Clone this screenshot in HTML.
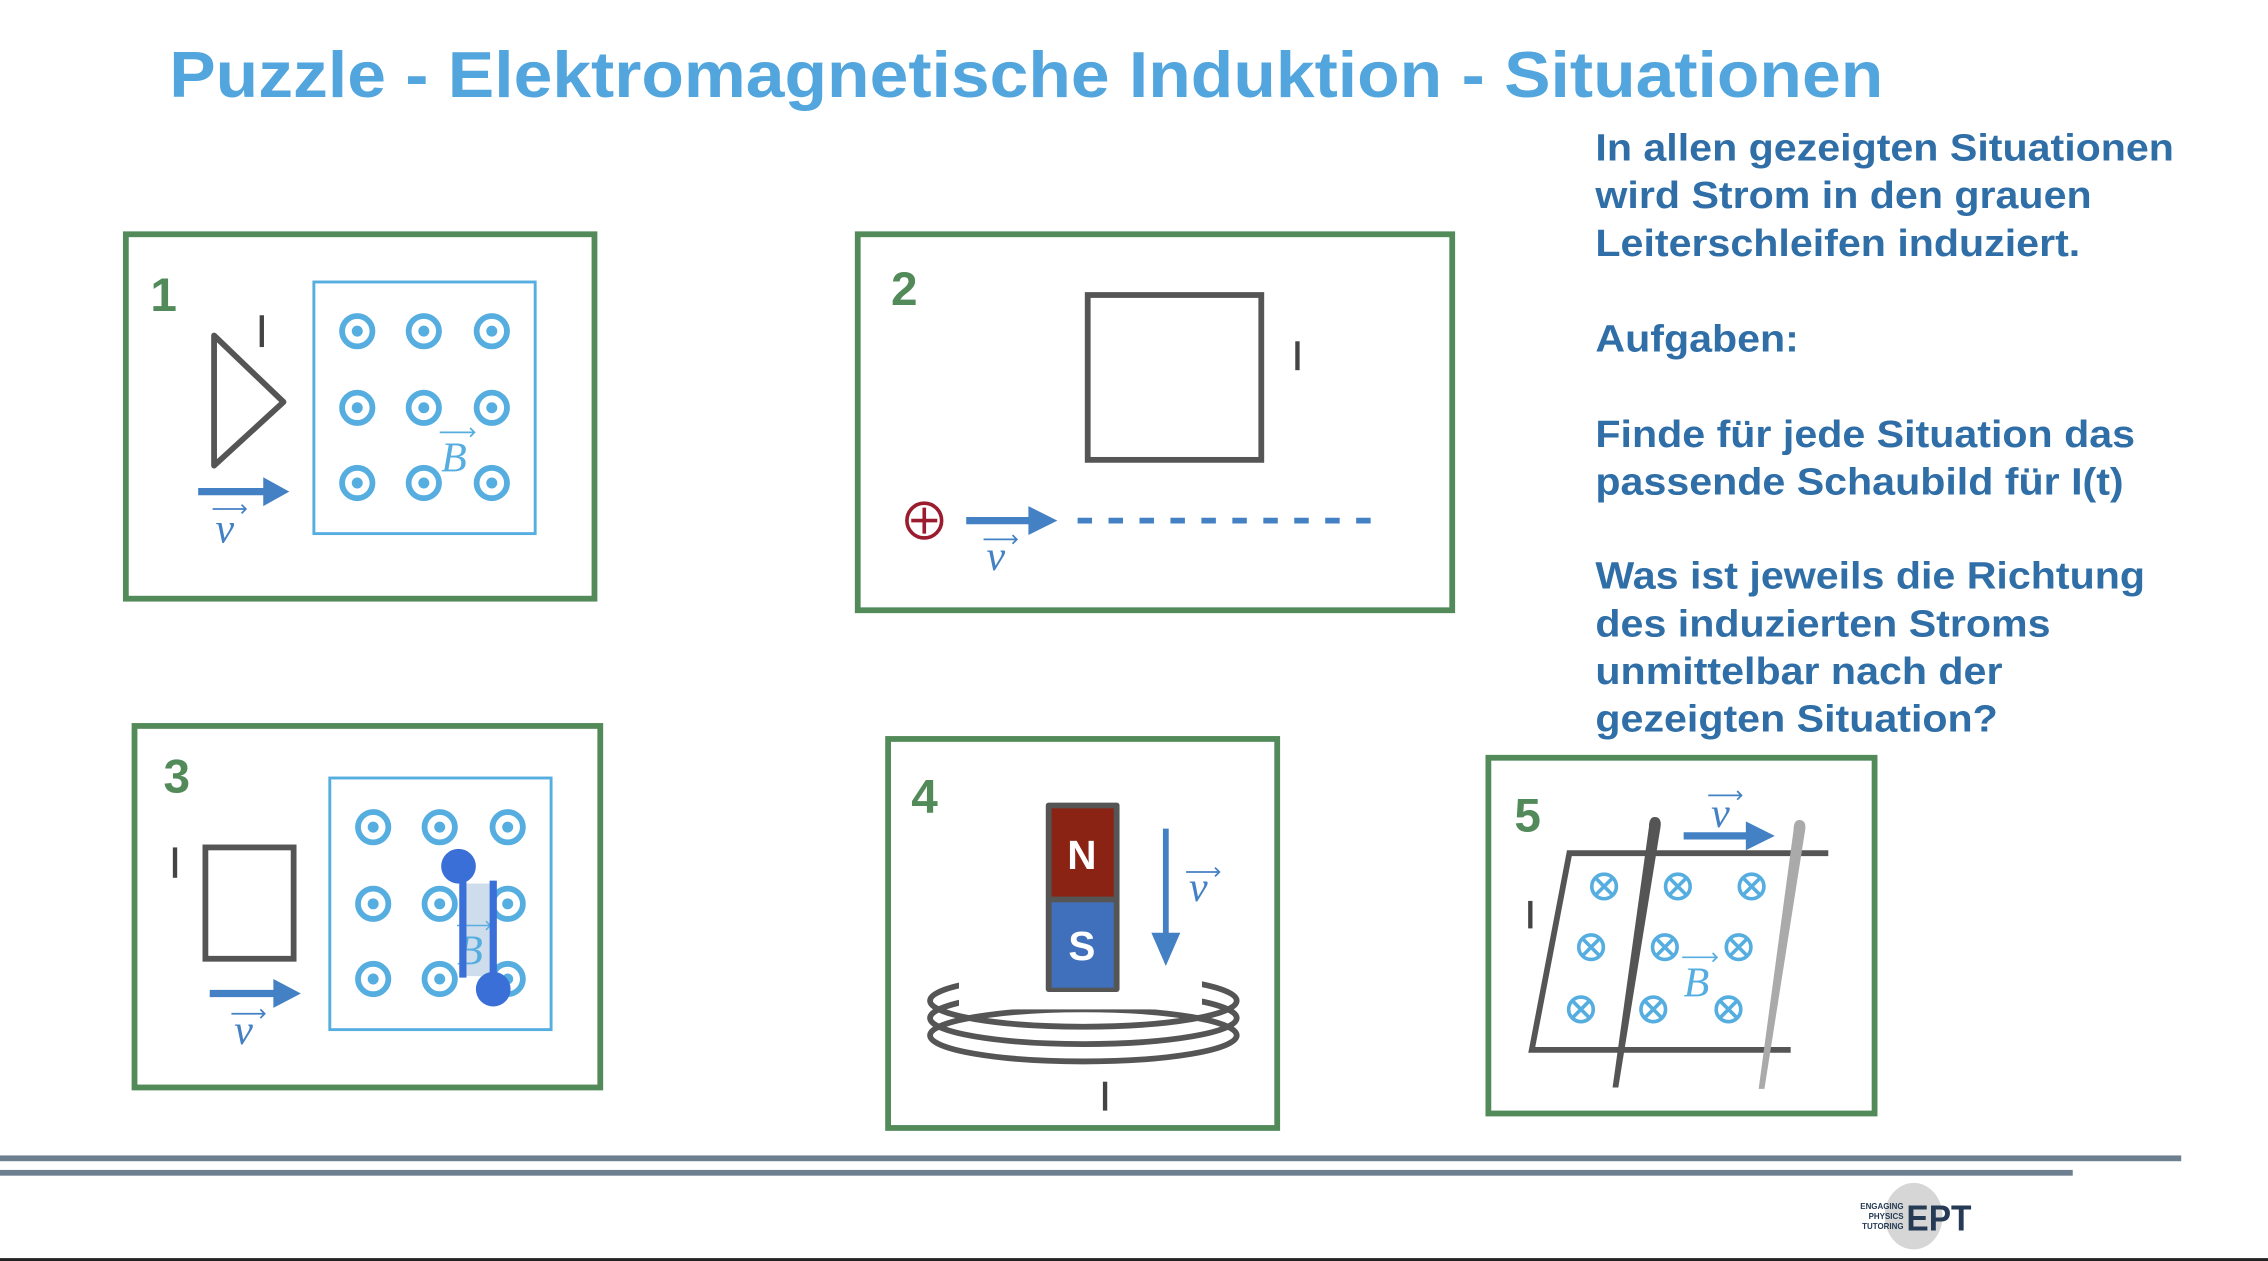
<!DOCTYPE html>
<html><head><meta charset="utf-8"><style>
html,body{margin:0;padding:0;background:#fff;}
svg{display:block;}
.num{font-family:"Liberation Sans",sans-serif;font-weight:bold;font-size:33px;fill:#528a5a;}
.vec{font-family:"Liberation Serif",serif;font-style:italic;font-size:29px;}
.rt{font-family:"Liberation Sans",sans-serif;font-weight:bold;font-size:26px;fill:#2f6ea6;}
</style></head><body>
<svg width="2268" height="1261" viewBox="0 0 1568 872" preserveAspectRatio="none" xmlns="http://www.w3.org/2000/svg">
<defs>
<g id="dot"><circle r="10.5" fill="none" stroke="#55ade0" stroke-width="4"/><circle r="3.8" fill="#55ade0"/></g>
<g id="cross"><circle r="8.5" fill="none" stroke="#55ade0" stroke-width="2.5"/><path d="M-6,-6L6,6M6,-6L-6,6" stroke="#55ade0" stroke-width="2.5"/></g>
</defs>
<rect width="1568" height="872" fill="#fff"/>
<text x="117" y="67" font-family="Liberation Sans,sans-serif" font-weight="bold" font-size="45" fill="#52a6dd" textLength="1185" lengthAdjust="spacingAndGlyphs">Puzzle - Elektromagnetische Induktion - Situationen</text>

<g class="rt" transform="translate(1103,0) scale(1.095,1)">
<text x="0" y="111">In allen gezeigten Situationen</text>
<text x="0" y="144">wird Strom in den grauen</text>
<text x="0" y="177">Leiterschleifen induziert.</text>
<text x="0" y="243">Aufgaben:</text>
<text x="0" y="309">Finde für jede Situation das</text>
<text x="0" y="342">passende Schaubild für I(t)</text>
<text x="0" y="407">Was ist jeweils die Richtung</text>
<text x="0" y="440">des induzierten Stroms</text>
<text x="0" y="473">unmittelbar nach der</text>
<text x="0" y="506">gezeigten Situation?</text>
</g>

<!-- Box 1 -->
<rect x="87" y="162" width="324" height="252" fill="none" stroke="#528a5a" stroke-width="4"/>
<text class="num" x="104" y="215">1</text>
<rect x="217" y="195" width="153" height="174" fill="none" stroke="#55ade0" stroke-width="2"/>
<use href="#dot" x="247" y="229"/><use href="#dot" x="293" y="229"/><use href="#dot" x="340" y="229"/>
<use href="#dot" x="247" y="282"/><use href="#dot" x="293" y="282"/><use href="#dot" x="340" y="282"/>
<use href="#dot" x="247" y="334"/><use href="#dot" x="293" y="334"/><use href="#dot" x="340" y="334"/>
<path d="M148,232L196,278L148,322Z" fill="none" stroke="#555" stroke-width="4" stroke-linejoin="round"/>
<line x1="181" y1="218" x2="181" y2="240" stroke="#444" stroke-width="3"/>
<line x1="137" y1="340" x2="184" y2="340" stroke="#4480c4" stroke-width="5"/>
<path d="M182,330L200,340L182,350Z" fill="#4480c4"/>
<text class="vec" x="149" y="375" fill="#4480c4">v</text>
<path d="M147,352h23m-3,-3l3,3l-3,3" stroke="#4480c4" stroke-width="1.2" fill="none"/>
<text class="vec" x="305" y="326" fill="#55ade0">B</text>
<path d="M304,299h24m-3,-3l3,3l-3,3" stroke="#55ade0" stroke-width="1.2" fill="none"/>

<!-- Box 2 -->
<rect x="593" y="162" width="411" height="260" fill="none" stroke="#528a5a" stroke-width="4"/>
<text class="num" x="616" y="211">2</text>
<rect x="752" y="204" width="120" height="114" fill="none" stroke="#555" stroke-width="4"/>
<line x1="897" y1="236" x2="897" y2="256" stroke="#444" stroke-width="3"/>
<circle cx="639" cy="360" r="12" fill="none" stroke="#9b1c2e" stroke-width="2.5"/>
<path d="M630,360h18M639,351v18" stroke="#9b1c2e" stroke-width="2.5"/>
<line x1="668" y1="360" x2="713" y2="360" stroke="#4480c4" stroke-width="5"/>
<path d="M711,350L731,360L711,370Z" fill="#4480c4"/>
<line x1="745" y1="360" x2="948" y2="360" stroke="#4480c4" stroke-width="4" stroke-dasharray="10,11.4"/>
<text class="vec" x="682" y="394" fill="#4480c4">v</text>
<path d="M680,373h23m-3,-3l3,3l-3,3" stroke="#4480c4" stroke-width="1.2" fill="none"/>

<!-- Box 3 -->
<rect x="93" y="502" width="322" height="250" fill="none" stroke="#528a5a" stroke-width="4"/>
<text class="num" x="113" y="548">3</text>
<rect x="228" y="538" width="153" height="174" fill="none" stroke="#55ade0" stroke-width="2"/>
<use href="#dot" x="258" y="572"/><use href="#dot" x="304" y="572"/><use href="#dot" x="351" y="572"/>
<use href="#dot" x="258" y="625"/><use href="#dot" x="304" y="625"/><use href="#dot" x="351" y="625"/>
<use href="#dot" x="258" y="677"/><use href="#dot" x="304" y="677"/><use href="#dot" x="351" y="677"/>
<rect x="318" y="611" width="23" height="64" fill="#c9d9ea" opacity="0.9"/>
<text class="vec" x="316" y="667" fill="#55ade0">B</text>
<path d="M316,640h23m-3,-3l3,3l-3,3" stroke="#55ade0" stroke-width="1" fill="none"/>
<line x1="320" y1="603" x2="320" y2="676" stroke="#3a6fd8" stroke-width="5"/>
<line x1="341" y1="609" x2="341" y2="682" stroke="#3a6fd8" stroke-width="5"/>
<circle cx="317" cy="599" r="12" fill="#3a6fd8"/>
<circle cx="341" cy="684" r="12" fill="#3a6fd8"/>
<rect x="142" y="586" width="61" height="77" fill="none" stroke="#555" stroke-width="4"/>
<line x1="121" y1="586" x2="121" y2="607" stroke="#444" stroke-width="3"/>
<line x1="145" y1="687" x2="191" y2="687" stroke="#4480c4" stroke-width="5"/>
<path d="M189,677L208,687L189,697Z" fill="#4480c4"/>
<text class="vec" x="162" y="722" fill="#4480c4">v</text>
<path d="M160,701h23m-3,-3l3,3l-3,3" stroke="#4480c4" stroke-width="1.2" fill="none"/>

<!-- Box 4 -->
<rect x="614" y="511" width="269" height="269" fill="none" stroke="#528a5a" stroke-width="4"/>
<text class="num" x="630" y="562">4</text>
<g fill="none" stroke="#555" stroke-width="4">
<ellipse cx="749" cy="692" rx="106" ry="18"/>
<ellipse cx="749" cy="704" rx="106" ry="18"/>
<ellipse cx="749" cy="716" rx="106" ry="18"/>
</g>
<rect x="663" y="660" width="168" height="38" fill="#fff"/>
<rect x="723" y="555" width="51" height="131" fill="#555" rx="2"/>
<rect x="727" y="559" width="43" height="61" fill="#8b2314"/>
<rect x="727" y="624" width="43" height="59" fill="#4070bc"/>
<text x="748" y="601" text-anchor="middle" font-family="Liberation Sans,sans-serif" font-weight="bold" font-size="28" fill="#fff">N</text>
<text x="748" y="664" text-anchor="middle" font-family="Liberation Sans,sans-serif" font-weight="bold" font-size="28" fill="#fff">S</text>
<line x1="806" y1="573" x2="806" y2="648" stroke="#4480c4" stroke-width="4"/>
<path d="M796,645L806,668L816,645Z" fill="#4480c4"/>
<text class="vec" x="822" y="623" fill="#4480c4">v</text>
<path d="M820,603h23m-3,-3l3,3l-3,3" stroke="#4480c4" stroke-width="1.2" fill="none"/>
<line x1="764" y1="748" x2="764" y2="768" stroke="#444" stroke-width="3"/>

<!-- Box 5 -->
<rect x="1029" y="524" width="267" height="246" fill="none" stroke="#528a5a" stroke-width="4"/>
<text class="num" x="1047" y="575">5</text>
<path d="M1264,590H1085L1059,726H1238" fill="none" stroke="#555" stroke-width="4"/>
<use href="#cross" x="1109" y="613"/><use href="#cross" x="1160" y="613"/><use href="#cross" x="1211" y="613"/>
<use href="#cross" x="1100" y="655"/><use href="#cross" x="1151" y="655"/><use href="#cross" x="1202" y="655"/>
<use href="#cross" x="1093" y="698"/><use href="#cross" x="1143" y="698"/><use href="#cross" x="1195" y="698"/>
<path d="M1144,566Q1148,566 1147,572L1118,751L1116,751L1141,572Q1141,566 1144,566Z" fill="#555" stroke="#555" stroke-width="2"/>
<path d="M1244,568Q1248,568 1247,574L1219,752L1217,752L1241,574Q1241,568 1244,568Z" fill="#aaa" stroke="#aaa" stroke-width="2"/>
<line x1="1164" y1="578" x2="1210" y2="578" stroke="#4480c4" stroke-width="5"/>
<path d="M1207,568L1227,578L1207,588Z" fill="#4480c4"/>
<text class="vec" x="1183" y="572" fill="#4480c4">v</text>
<path d="M1181,550h23m-3,-3l3,3l-3,3" stroke="#4480c4" stroke-width="1.2" fill="none"/>
<text class="vec" x="1164" y="689" fill="#55ade0">B</text>
<path d="M1163,662h24m-3,-3l3,3l-3,3" stroke="#55ade0" stroke-width="1.2" fill="none"/>
<line x1="1058" y1="623" x2="1058" y2="642" stroke="#444" stroke-width="3"/>

<!-- footer -->
<rect x="0" y="799" width="1508" height="4" fill="#6e7f8f"/>
<rect x="0" y="809" width="1433" height="4" fill="#6e7f8f"/>
<ellipse cx="1323" cy="841" rx="20" ry="23" fill="#d6d6d6"/>
<text x="1318" y="851" font-family="Liberation Sans,sans-serif" font-weight="bold" font-size="25" fill="#253a55" textLength="45" lengthAdjust="spacingAndGlyphs">EPT</text>
<g font-family="Liberation Sans,sans-serif" font-weight="bold" font-size="5.5" fill="#253a55" text-anchor="end">
<text x="1316" y="836">ENGAGING</text>
<text x="1316" y="843">PHYSICS</text>
<text x="1316" y="850">TUTORING</text>
</g>
<rect x="0" y="870" width="1568" height="2" fill="#222"/>
</svg>
</body></html>
